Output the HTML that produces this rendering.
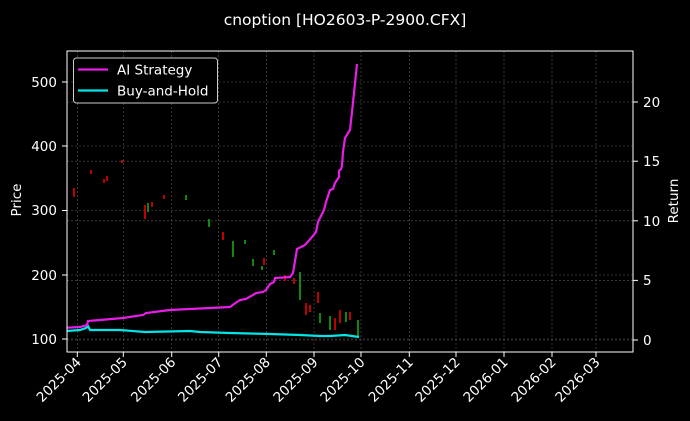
<!DOCTYPE html>
<html><head><meta charset="utf-8"><style>
html,body{margin:0;padding:0;background:#000;}
svg{display:block;font-family:"DejaVu Sans","Liberation Sans",sans-serif;}
</style></head><body>
<svg width="690" height="421" viewBox="0 0 690 421" xmlns="http://www.w3.org/2000/svg">
<rect width="690" height="421" fill="#000"/>
<text x="345" y="25" fill="#fff" font-size="15.5" text-anchor="middle">cnoption [HO2603-P-2900.CFX]</text>
<g stroke="#5a5a5a" stroke-width="0.6" stroke-dasharray="2,2">
<line x1="77.3" y1="51" x2="77.3" y2="352"/><line x1="123.3" y1="51" x2="123.3" y2="352"/>
<line x1="171.7" y1="51" x2="171.7" y2="352"/><line x1="218.7" y1="51" x2="218.7" y2="352"/>
<line x1="266.3" y1="51" x2="266.3" y2="352"/><line x1="314" y1="51" x2="314" y2="352"/>
<line x1="361" y1="51" x2="361" y2="352"/><line x1="409.3" y1="51" x2="409.3" y2="352"/>
<line x1="456" y1="51" x2="456" y2="352"/><line x1="504" y1="51" x2="504" y2="352"/>
<line x1="552" y1="51" x2="552" y2="352"/><line x1="596" y1="51" x2="596" y2="352"/>
<line x1="67" y1="82" x2="633" y2="82"/><line x1="67" y1="146" x2="633" y2="146"/>
<line x1="67" y1="210.5" x2="633" y2="210.5"/><line x1="67" y1="275" x2="633" y2="275"/>
<line x1="67" y1="339" x2="633" y2="339"/>
<line x1="67" y1="102" x2="633" y2="102"/><line x1="67" y1="161.2" x2="633" y2="161.2"/>
<line x1="67" y1="220.8" x2="633" y2="220.8"/><line x1="67" y1="280.4" x2="633" y2="280.4"/>
<line x1="67" y1="340" x2="633" y2="340"/>
</g>
<g stroke-width="1.6">
<line x1="74" y1="188" x2="74" y2="197" stroke="#e00"/><line x1="91" y1="170" x2="91" y2="174" stroke="#e00"/>
<line x1="104" y1="179" x2="104" y2="183" stroke="#e00"/><line x1="107" y1="176" x2="107" y2="181" stroke="#e00"/>
<line x1="122" y1="160" x2="122" y2="163" stroke="#e00"/><line x1="145" y1="205" x2="145" y2="219" stroke="#e00"/>
<line x1="148" y1="203" x2="148" y2="212" stroke="#1a1"/><line x1="152" y1="202" x2="152" y2="207" stroke="#e00"/>
<line x1="164" y1="195" x2="164" y2="199" stroke="#e00"/><line x1="186" y1="195" x2="186" y2="200" stroke="#1a1"/>
<line x1="209" y1="219" x2="209" y2="227" stroke="#1a1"/><line x1="223" y1="232" x2="223" y2="240" stroke="#e00"/>
<line x1="233" y1="241" x2="233" y2="257" stroke="#1a1"/><line x1="245" y1="240" x2="245" y2="244" stroke="#1a1"/>
<line x1="253" y1="259" x2="253" y2="266" stroke="#1a1"/><line x1="262" y1="266" x2="262" y2="270" stroke="#1a1"/>
<line x1="264" y1="258" x2="264" y2="265" stroke="#e00"/><line x1="274" y1="250" x2="274" y2="255" stroke="#1a1"/>
<line x1="285" y1="275" x2="285" y2="281" stroke="#e00"/><line x1="294" y1="278" x2="294" y2="284" stroke="#e00"/>
<line x1="300" y1="272" x2="300" y2="300" stroke="#1a1"/><line x1="306" y1="303" x2="306" y2="315" stroke="#e00"/>
<line x1="310" y1="305" x2="310" y2="312" stroke="#e00"/><line x1="318" y1="292" x2="318" y2="303" stroke="#e00"/>
<line x1="320" y1="313" x2="320" y2="323" stroke="#1a1"/><line x1="330" y1="316" x2="330" y2="330" stroke="#1a1"/>
<line x1="335" y1="318" x2="335" y2="330" stroke="#e00"/><line x1="340" y1="310" x2="340" y2="323" stroke="#e00"/>
<line x1="346" y1="312" x2="346" y2="322" stroke="#1a1"/><line x1="350" y1="312" x2="350" y2="320" stroke="#e00"/>
<line x1="358" y1="320" x2="358" y2="336" stroke="#1a1"/>
</g>
<polyline fill="none" stroke="#00e5e5" stroke-width="2.2" points="67,331 80,330 86,328 88,326 90,330 120,330 145,332 190,331 200,332 230,333 270,334 300,335 320,336 330,336 345,335 359,337"/>
<polyline fill="none" stroke="#e81ee8" stroke-width="2.2" points="67,327.7 80,327 87,325 88,321 100,320 123,318 143,315 146,313 170,310 190,309 210,308 230,307 234,304 240,300 246,299 253,295 256,293 263,292 266,290 270,284 274,282 275,278 290,277 293,273 297,249 305,245 312,237 316,232 318,222 320,218 324,210 326,202 330,190 333,189 335,183 337,180 339,177 339,171 341,169 342,166 343,152 345,138 348,133 350,130 352,112 357,64"/>
<rect x="67" y="51" width="566" height="301" fill="none" stroke="#fff" stroke-width="1"/>
<g stroke="#fff" stroke-width="1">
<line x1="62" y1="82" x2="67" y2="82"/><line x1="62" y1="146" x2="67" y2="146"/><line x1="62" y1="210.5" x2="67" y2="210.5"/><line x1="62" y1="275" x2="67" y2="275"/><line x1="62" y1="339" x2="67" y2="339"/>
<line x1="633" y1="102" x2="638" y2="102"/><line x1="633" y1="161.2" x2="638" y2="161.2"/><line x1="633" y1="220.8" x2="638" y2="220.8"/><line x1="633" y1="280.4" x2="638" y2="280.4"/><line x1="633" y1="340" x2="638" y2="340"/>
<line x1="77.3" y1="352" x2="77.3" y2="357"/><line x1="123.3" y1="352" x2="123.3" y2="357"/><line x1="171.7" y1="352" x2="171.7" y2="357"/><line x1="218.7" y1="352" x2="218.7" y2="357"/><line x1="266.3" y1="352" x2="266.3" y2="357"/><line x1="314" y1="352" x2="314" y2="357"/><line x1="361" y1="352" x2="361" y2="357"/><line x1="409.3" y1="352" x2="409.3" y2="357"/><line x1="456" y1="352" x2="456" y2="357"/><line x1="504" y1="352" x2="504" y2="357"/><line x1="552" y1="352" x2="552" y2="357"/><line x1="596" y1="352" x2="596" y2="357"/>
</g>
<g fill="#fff" font-size="13.5" text-anchor="end">
<text x="57" y="87">500</text><text x="57" y="151">400</text><text x="57" y="215">300</text><text x="57" y="280">200</text><text x="57" y="344">100</text>
</g>
<g fill="#fff" font-size="13.5">
<text x="643" y="107">20</text><text x="643" y="166">15</text><text x="643" y="226">10</text><text x="643" y="285">5</text><text x="643" y="345">0</text>
</g>
<text transform="translate(21,200) rotate(-90)" fill="#fff" font-size="13.5" text-anchor="middle">Price</text>
<text transform="translate(678,201) rotate(-90)" fill="#fff" font-size="13.5" text-anchor="middle">Return</text>
<g fill="#fff" font-size="13.5" text-anchor="end">
<text transform="translate(82,363) rotate(-45)">2025-04</text>
<text transform="translate(128,363) rotate(-45)">2025-05</text>
<text transform="translate(176.4,363) rotate(-45)">2025-06</text>
<text transform="translate(223.4,363) rotate(-45)">2025-07</text>
<text transform="translate(271,363) rotate(-45)">2025-08</text>
<text transform="translate(318.7,363) rotate(-45)">2025-09</text>
<text transform="translate(365.7,363) rotate(-45)">2025-10</text>
<text transform="translate(414,363) rotate(-45)">2025-11</text>
<text transform="translate(460.7,363) rotate(-45)">2025-12</text>
<text transform="translate(508.7,363) rotate(-45)">2026-01</text>
<text transform="translate(556.7,363) rotate(-45)">2026-02</text>
<text transform="translate(600.7,363) rotate(-45)">2026-03</text>
</g>
<rect x="73.5" y="58" width="144" height="45" rx="3" fill="#000" stroke="#ccc" stroke-width="1"/>
<line x1="78" y1="69.5" x2="108" y2="69.5" stroke="#e81ee8" stroke-width="2.2"/>
<line x1="78" y1="90.5" x2="108" y2="90.5" stroke="#00e5e5" stroke-width="2.2"/>
<text x="117" y="74.5" fill="#fff" font-size="13.5">AI Strategy</text>
<text x="117" y="95.5" fill="#fff" font-size="13.5">Buy-and-Hold</text>
</svg>
</body></html>
